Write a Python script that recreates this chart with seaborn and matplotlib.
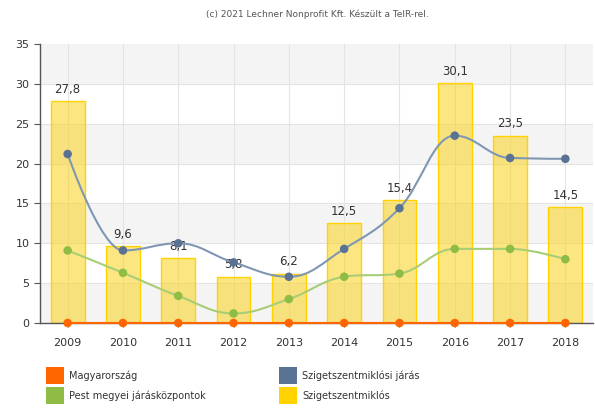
import numpy as np
import pandas as pd
import matplotlib
matplotlib.use('Agg')
import matplotlib.pyplot as plt
from matplotlib.path import Path
from matplotlib.patches import PathPatch, Rectangle
import seaborn as sns

# Adatok
evek = ['2009', '2010', '2011', '2012', '2013', '2014', '2015', '2016', '2017', '2018']
magyarorszag = [0, 0, 0, 0, 0, 0, 0, 0, 0, 0]
pest_jarasközpontok = [9.1, 6.3, 3.4, 1.2, 3.0, 5.8, 6.2, 9.3, 9.3, 8.0]
szigetszentmiklosi_jaras = [21.2, 9.1, 10.0, 7.6, 5.8, 9.3, 14.4, 23.5, 20.7, 20.6]
szigetszentmiklos = [27.8, 9.6, 8.1, 5.8, 6.2, 12.5, 15.4, 30.1, 23.5, 14.5]

cimkek = ['Magyarország', 'Pest megyei járásközpontok', 'Szigetszentmiklósi járás', 'Szigetszentmiklós']
szinek = ['#ff6600', '#8fbc45', '#5a7394', '#ffd200']

sns.set_style('white')
plt.rcParams['font.family'] = ['DejaVu Sans']

W, H = 595, 409
fig = plt.figure(figsize=(W / 100, H / 100), dpi=100)
ax = fig.add_axes([40 / W, 1 - 323 / H, 553 / W, 279 / H])

df = pd.DataFrame({'ev': evek, 'ertek': szigetszentmiklos})
x = np.arange(len(evek))

# Háttérsávok és rács
for y0 in range(0, 35, 10):
    ax.axhspan(y0, y0 + 5, color='#f4f4f4', zorder=0, lw=0)
for y0 in range(5, 35, 5):
    ax.axhline(y0, color='#e4e4e4', lw=0.8, zorder=0.5)
for xi in x:
    ax.axvline(xi, color='#e4e4e4', lw=0.8, zorder=0.5)

sns.barplot(data=df, x='ev', y='ertek', ax=ax, color='#fbd31c', alpha=0.55,
            saturation=1, width=0.61, edgecolor='none', zorder=1)
for p in ax.containers[0]:
    ax.add_patch(Rectangle(p.get_xy(), p.get_width(), p.get_height(), fill=False,
                           edgecolor='#ffd200', lw=1.0, zorder=1.1))

for xi, v in zip(x, szigetszentmiklos):
    ax.annotate(f'{v:.1f}'.replace('.', ','), (xi, v), xytext=(0, 4),
                textcoords='offset points', ha='center', va='bottom',
                fontsize=8.5, color='#333333', zorder=2)


def spline_path(xs, ys, smoothing=1.5):
    # Highcharts-szerű spline vezérlőpontok
    n = len(xs)
    left = [(xs[i], ys[i]) for i in range(n)]
    right = [(xs[i], ys[i]) for i in range(n)]
    d = smoothing + 1
    for i in range(1, n - 1):
        px, py = xs[i], ys[i]
        lx, ly = xs[i - 1], ys[i - 1]
        nx, ny = xs[i + 1], ys[i + 1]
        lcx = (smoothing * px + lx) / d
        lcy = (smoothing * py + ly) / d
        rcx = (smoothing * px + nx) / d
        rcy = (smoothing * py + ny) / d
        corr = (rcy - lcy) * (rcx - px) / (rcx - lcx) + py - rcy
        lcy += corr
        rcy += corr
        if lcy > ly and lcy > py:
            lcy = max(ly, py)
            rcy = 2 * py - lcy
        elif lcy < ly and lcy < py:
            lcy = min(ly, py)
            rcy = 2 * py - lcy
        if rcy > ny and rcy > py:
            rcy = max(ny, py)
            lcy = 2 * py - rcy
        elif rcy < ny and rcy < py:
            rcy = min(ny, py)
            lcy = 2 * py - rcy
        left[i] = (lcx, lcy)
        right[i] = (rcx, rcy)
    verts = [(xs[0], ys[0])]
    codes = [Path.MOVETO]
    for i in range(1, n):
        verts += [right[i - 1], left[i], (xs[i], ys[i])]
        codes += [Path.CURVE4] * 3
    return Path(verts, codes)


vonalszinek = ['#ff6600', '#a8cd74', '#8097b4']
sorok = [magyarorszag, pest_jarasközpontok, szigetszentmiklosi_jaras]
for ys, lc, mc in zip(sorok, vonalszinek, szinek[:3]):
    ax.add_patch(PathPatch(spline_path(x, ys), fill=False, edgecolor=lc,
                           lw=1.5, zorder=3, clip_on=False))
    sns.scatterplot(x=x, y=ys, ax=ax, color=mc, s=38, edgecolor='none',
                    zorder=4, clip_on=False, legend=False)

ax.set_xlim(-0.5, 9.5)
ax.set_ylim(0, 35)
ax.set_yticks(range(0, 36, 5))
ax.set_xticks(x)
ax.set_xticklabels(evek)
ax.set_xlabel('')
ax.set_ylabel('')
ax.tick_params(axis='both', labelsize=8, labelcolor='#333333', color='#555555',
               length=4, width=0.8, direction='out', bottom=True, left=True)
ax.tick_params(axis='x', pad=8, length=3)
for s in ['top', 'right']:
    ax.spines[s].set_visible(False)
for s in ['left', 'bottom']:
    ax.spines[s].set_color('#555555')
    ax.spines[s].set_linewidth(1.0)

fig.text(317 / W, 1 - 14 / H, '(c) 2021 Lechner Nonprofit Kft. Készült a TeIR-rel.',
         ha='center', va='center', fontsize=6.5, color='#555555')

# Jelmagyarázat
poz = [(46, 367), (46, 387), (279, 367), (279, 387)]
for (px, py), c, t in zip(poz, szinek, cimkek):
    fig.patches.append(Rectangle((px / W, 1 - (py + 17) / H), 18 / W, 17 / H,
                                 transform=fig.transFigure, facecolor=c,
                                 edgecolor='none'))
    fig.text((px + 23) / W, 1 - (py + 8.5) / H, t, ha='left', va='center',
             fontsize=7, color='#333333')

fig.savefig('out.png', dpi=100)
